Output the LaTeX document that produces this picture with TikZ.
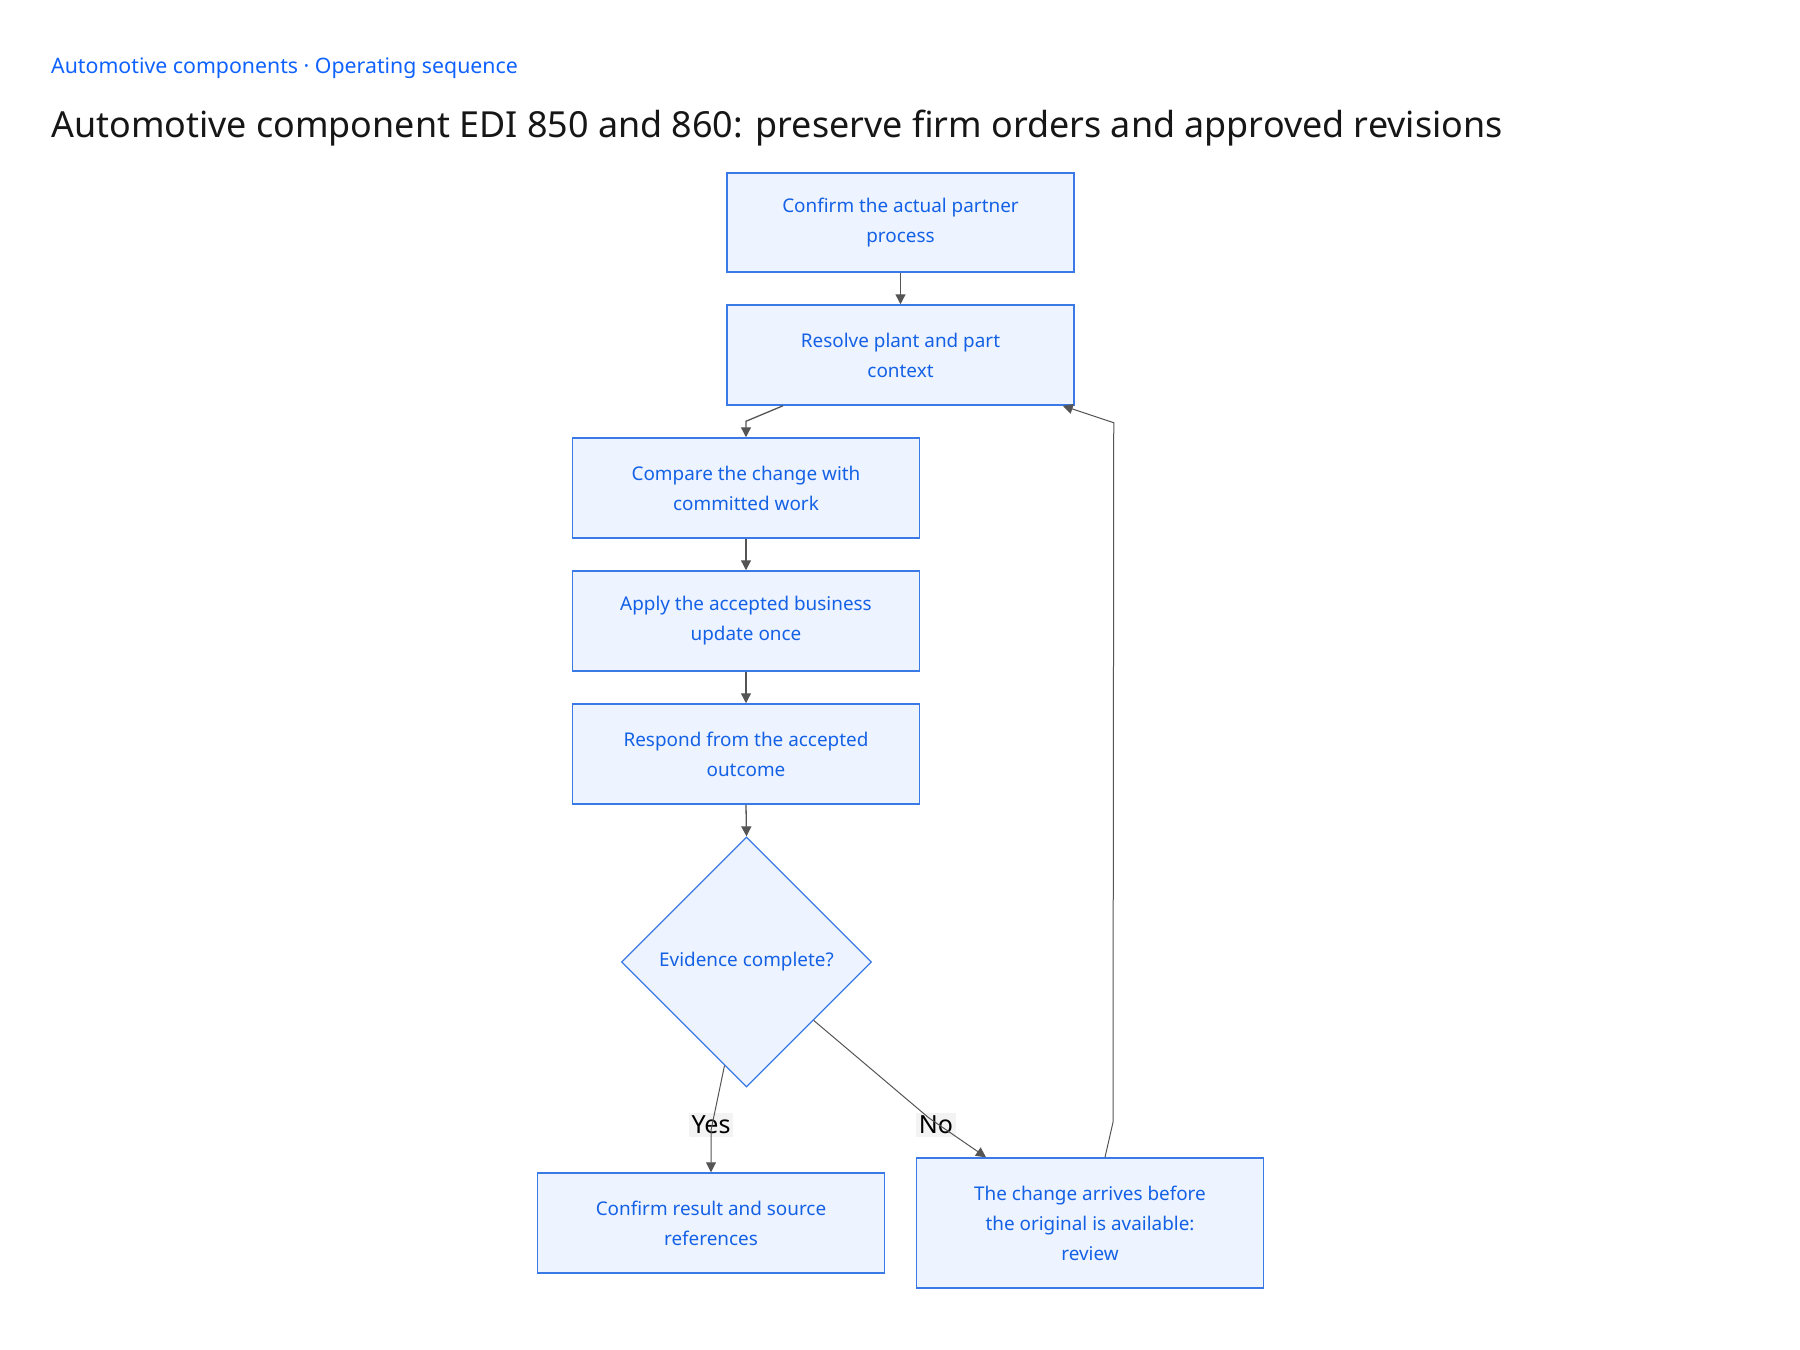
\documentclass[tikz,border=0pt]{standalone}
\usepackage{fontspec}
\setmainfont{Noto Sans}
\usetikzlibrary{shapes.geometric,arrows.meta,calc}
\definecolor{boxfill}{HTML}{EDF4FF}
\definecolor{boxline}{HTML}{3A7AE6}
\definecolor{boxtext}{HTML}{1561E6}
\definecolor{subblue}{HTML}{0F62FE}
\definecolor{titleblack}{HTML}{161616}
\definecolor{edgegray}{HTML}{555555}
\definecolor{lblbg}{HTML}{EFEFEF}
\tikzset{
  stepbox/.style={draw=boxline, line width=1.5pt, fill=boxfill, text=boxtext,
    minimum width=347pt, minimum height=100pt, align=center, inner sep=0pt,
    font=\fontsize{18.9}{30}\selectfont},
  decbox/.style={diamond, draw=boxline, line width=1.3pt, fill=boxfill, text=boxtext,
    minimum width=250pt, minimum height=250pt, inner sep=0pt, aspect=1,
    font=\fontsize{18.9}{30}\selectfont},
  flow/.style={draw=edgegray, line width=1.3pt, -{Triangle[length=10pt,width=10pt]}},
  thinflow/.style={draw=edgegray, line width=1pt, -{Triangle[length=10pt,width=10pt]}},
  edgelbl/.style={fill=lblbg, fill opacity=0.7, text opacity=1, text=black,
    inner sep=3pt, font=\fontsize{25}{28}\selectfont}
}
\begin{document}
\begin{tikzpicture}[x=1pt,y=-1pt]
\useasboundingbox (0,0) rectangle (1800,1350);
\fill[white] (0,0) rectangle (1800,1350);

\node[anchor=base west, text=subblue, inner sep=0pt, font=\fontsize{21.3}{24}\selectfont] (sub) at (51,73) {Automotive components · Operating sequence};
\node[anchor=base west, text=titleblack, inner sep=0pt, font=\fontsize{35.9}{42}\selectfont] (title) at (51,137.5) {Automotive component EDI 850 and 860: preserve firm orders and approved revisions};

\node[stepbox, minimum height=99pt] (b1) at (900.5,222.5) {Confirm the actual partner\\process};
\node[stepbox] (b2) at (900.5,355) {Resolve plant and part\\context};
\node[stepbox] (b3) at (746,488) {Compare the change with\\committed work};
\node[stepbox] (b4) at (746,621) {Apply the accepted business\\update once};
\node[stepbox] (b5) at (746,754) {Respond from the accepted\\outcome};
\node[decbox] (d) at (746.5,962) {Evidence complete?};
\node[stepbox] (b6) at (711,1223) {Confirm result and source\\references};
\node[stepbox, minimum height=130pt] (b7) at (1090,1223) {The change arrives before\\the original is available:\\review};

\draw[flow] (b1.south) -- (b2.north);
\draw[flow] ($(b2.south)+(-117.5,0)$) -- ($(b3.north)+(0,-16)$) -- (b3.north);
\draw[flow] (b3.south) -- (b4.north);
\draw[flow] (b4.south) -- (b5.north);
\draw[flow] (b5.south) -- (d.north);

\coordinate (yesbend) at ($(b6.north)+(0,-42)$);
\coordinate (nobend) at (929,1118);
\coordinate (fbA) at ($(b7.north)+(23,-35)$);
\coordinate (fbB) at ($(b2.south east)+(39,17)$);

\node[edgelbl] (yes) at (711,1125) {Yes};
\node[edgelbl] (no) at (936,1125) {No};

\draw[thinflow] (d.-102) -- (yesbend) -- (b6.north);
\draw[thinflow] (d.-41) -- (nobend) -- ($(b7.north)+(-104,0)$);
\draw[thinflow] ($(b7.north)+(15,0)$) -- (fbA) -- (fbB) -- ($(b2.south east)+(-12,0)$);
\end{tikzpicture}
\end{document}
